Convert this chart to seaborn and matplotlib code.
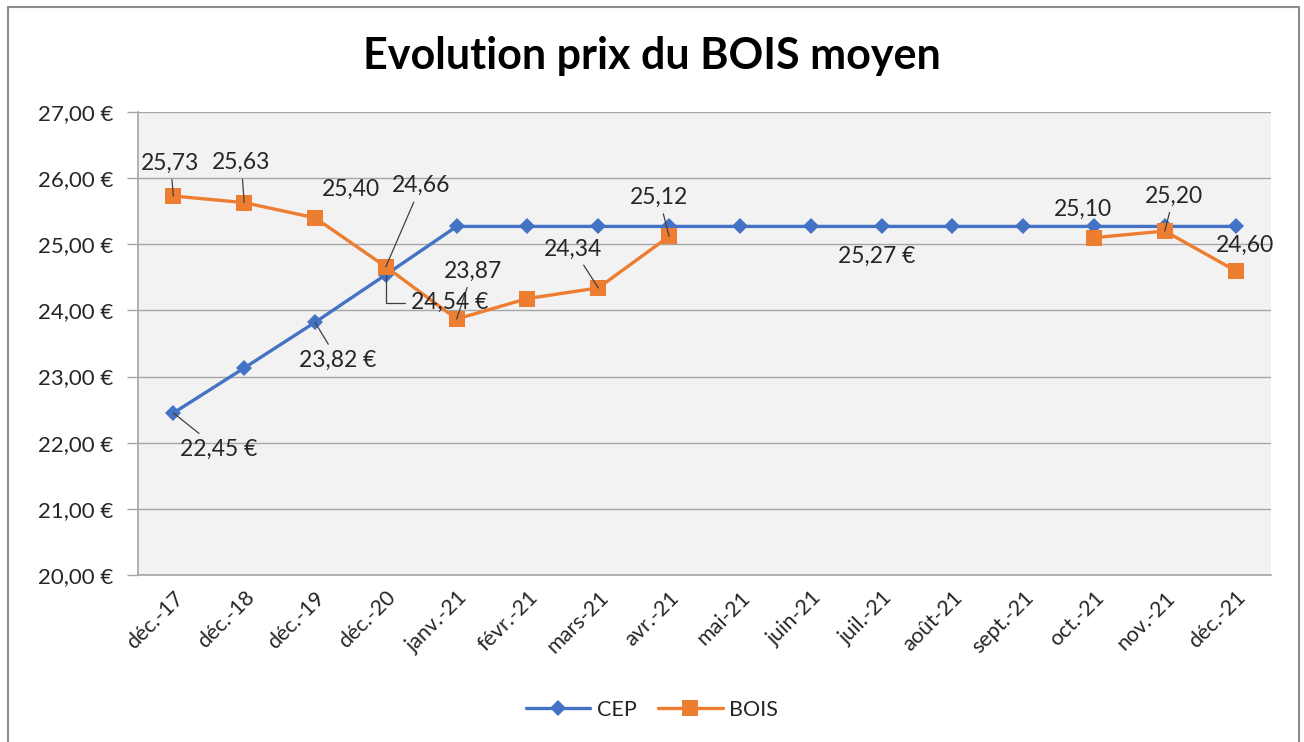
import numpy as np
import pandas as pd
import matplotlib.pyplot as plt
from matplotlib.lines import Line2D
from matplotlib.ticker import FuncFormatter
import seaborn as sns

# data
mois = ["déc.-17", "déc.-18", "déc.-19", "déc.-20", "janv.-21", "févr.-21",
        "mars-21", "avr.-21", "mai-21", "juin-21", "juil.-21", "août-21",
        "sept.-21", "oct.-21", "nov.-21", "déc.-21"]
cep = [22.45, 23.13, 23.82, 24.54, 25.27, 25.27, 25.27, 25.27,
       25.27, 25.27, 25.27, 25.27, 25.27, 25.27, 25.27, 25.27]
bois = [25.73, 25.63, 25.40, 24.66, 23.87, 24.18, 24.34, 25.12,
        np.nan, np.nan, np.nan, np.nan, np.nan, 25.10, 25.20, 24.60]

BLUE = "#4472C4"
ORANGE = "#ED7D31"

df = pd.DataFrame({"x": range(len(mois)), "mois": mois, "CEP": cep, "BOIS": bois})
# segments so the BOIS line breaks where values are missing
df["seg_bois"] = df["BOIS"].isna().cumsum()

sns.set_theme(style="white")
plt.rcParams["font.family"] = ["Lato", "DejaVu Sans"]

fig = plt.figure(figsize=(13.04, 7.42), dpi=100)
ax = fig.add_axes([138 / 1304, 1 - 575 / 742, (1271 - 138) / 1304, (575 - 112) / 742])
ax.set_facecolor("#F2F2F2")

sns.lineplot(data=df, x="x", y="CEP", ax=ax, color=BLUE, lw=2.4,
             marker="D", markersize=8, markeredgewidth=0, legend=False, zorder=3)
sns.lineplot(data=df.dropna(subset=["BOIS"]), x="x", y="BOIS", units="seg_bois",
             estimator=None, ax=ax, color=ORANGE, lw=2.4, marker="s",
             markersize=11, markeredgewidth=0, legend=False, zorder=4)

ax.set_xlim(-0.5, len(mois) - 0.5)
ax.set_ylim(20, 27)
ax.set_yticks(range(20, 28))
ax.yaxis.set_major_formatter(FuncFormatter(lambda v, p: f"{v:.2f}".replace(".", ",") + " €"))
ax.set_xticks(df["x"])
ax.set_xticklabels(mois, rotation=45, ha="right", rotation_mode="anchor")
ax.set_xlabel("")
ax.set_ylabel("")
ax.grid(axis="y", color="#A6A6A6", lw=1.0)
ax.tick_params(axis="y", labelsize=16, colors="#A6A6A6", labelcolor="#262626",
               length=8, width=1, direction="out", left=True, pad=10)
ax.tick_params(axis="x", labelsize=15.5, labelcolor="#262626", length=0, pad=9)
for s in ["top", "right"]:
    ax.spines[s].set_visible(False)
for s in ["left", "bottom"]:
    ax.spines[s].set_color("#A6A6A6")
    ax.spines[s].set_linewidth(1.2)

# data labels: (series, index, dx px, dy px, label, leader line)
labels = [
    ("BOIS", 0, -3, 33, "25,73", True),
    ("BOIS", 1, -3, 40, "25,63", True),
    ("BOIS", 2, 36, 28, "25,40", False),
    ("BOIS", 3, 35, 81, "24,66", True),
    ("BOIS", 4, 16, 48, "23,87", True),
    ("BOIS", 6, -25, 39, "24,34", True),
    ("BOIS", 7, -10, 39, "25,12", True),
    ("BOIS", 13, -11, 28, "25,10", False),
    ("BOIS", 14, 9, 35, "25,20", True),
    ("BOIS", 15, 9, 25, "24,60", False),
    ("CEP", 0, 45, -36, "22,45 €", True),
    ("CEP", 2, 23, -38, "23,82 €", True),
    ("CEP", 3, 64, -28, "24,54 €", True),
    ("CEP", 10, -5, -30, "25,27 €", False),
]
for serie, i, dx, dy, txt, lead in labels:
    y = df[serie][i]
    arrow = dict(arrowstyle="-", color="#404040", lw=0.9, shrinkA=2, shrinkB=0) if lead else None
    if serie == "CEP" and i == 3:
        arrow = dict(arrowstyle="-", color="#404040", lw=0.9, shrinkA=2, shrinkB=0,
                     connectionstyle="angle,angleA=0,angleB=90,rad=0")
    ax.annotate(txt, xy=(i, y), xytext=(dx, dy), textcoords="offset pixels",
                ha="center", va="center", fontsize=16.5, color="#262626",
                arrowprops=arrow, zorder=6)

fig.text(0.5, 1 - 56 / 742, "Evolution prix du BOIS moyen", ha="center", va="center",
         fontsize=31, fontweight="bold", color="black")

handles = [Line2D([], [], color=BLUE, lw=2.4, marker="D", markersize=8, markeredgewidth=0),
           Line2D([], [], color=ORANGE, lw=2.4, marker="s", markersize=11, markeredgewidth=0)]
fig.legend(handles, ["CEP", "BOIS"], loc="center", bbox_to_anchor=(0.5, 1 - 710 / 742),
           ncol=2, frameon=False, fontsize=15.5, handlelength=3, columnspacing=1.0,
           handletextpad=0.3)

# outer chart border
bc = "#8C8C8C"
fig.add_artist(Line2D([8 / 1304, 8 / 1304], [0, 1 - 7 / 742], color=bc, lw=1.5))
fig.add_artist(Line2D([8 / 1304, 1299 / 1304], [1 - 7 / 742, 1 - 7 / 742], color=bc, lw=1.5))
fig.add_artist(Line2D([1299 / 1304, 1299 / 1304], [0, 1 - 7 / 742], color=bc, lw=1.5))

fig.savefig("out.png", dpi=100)
